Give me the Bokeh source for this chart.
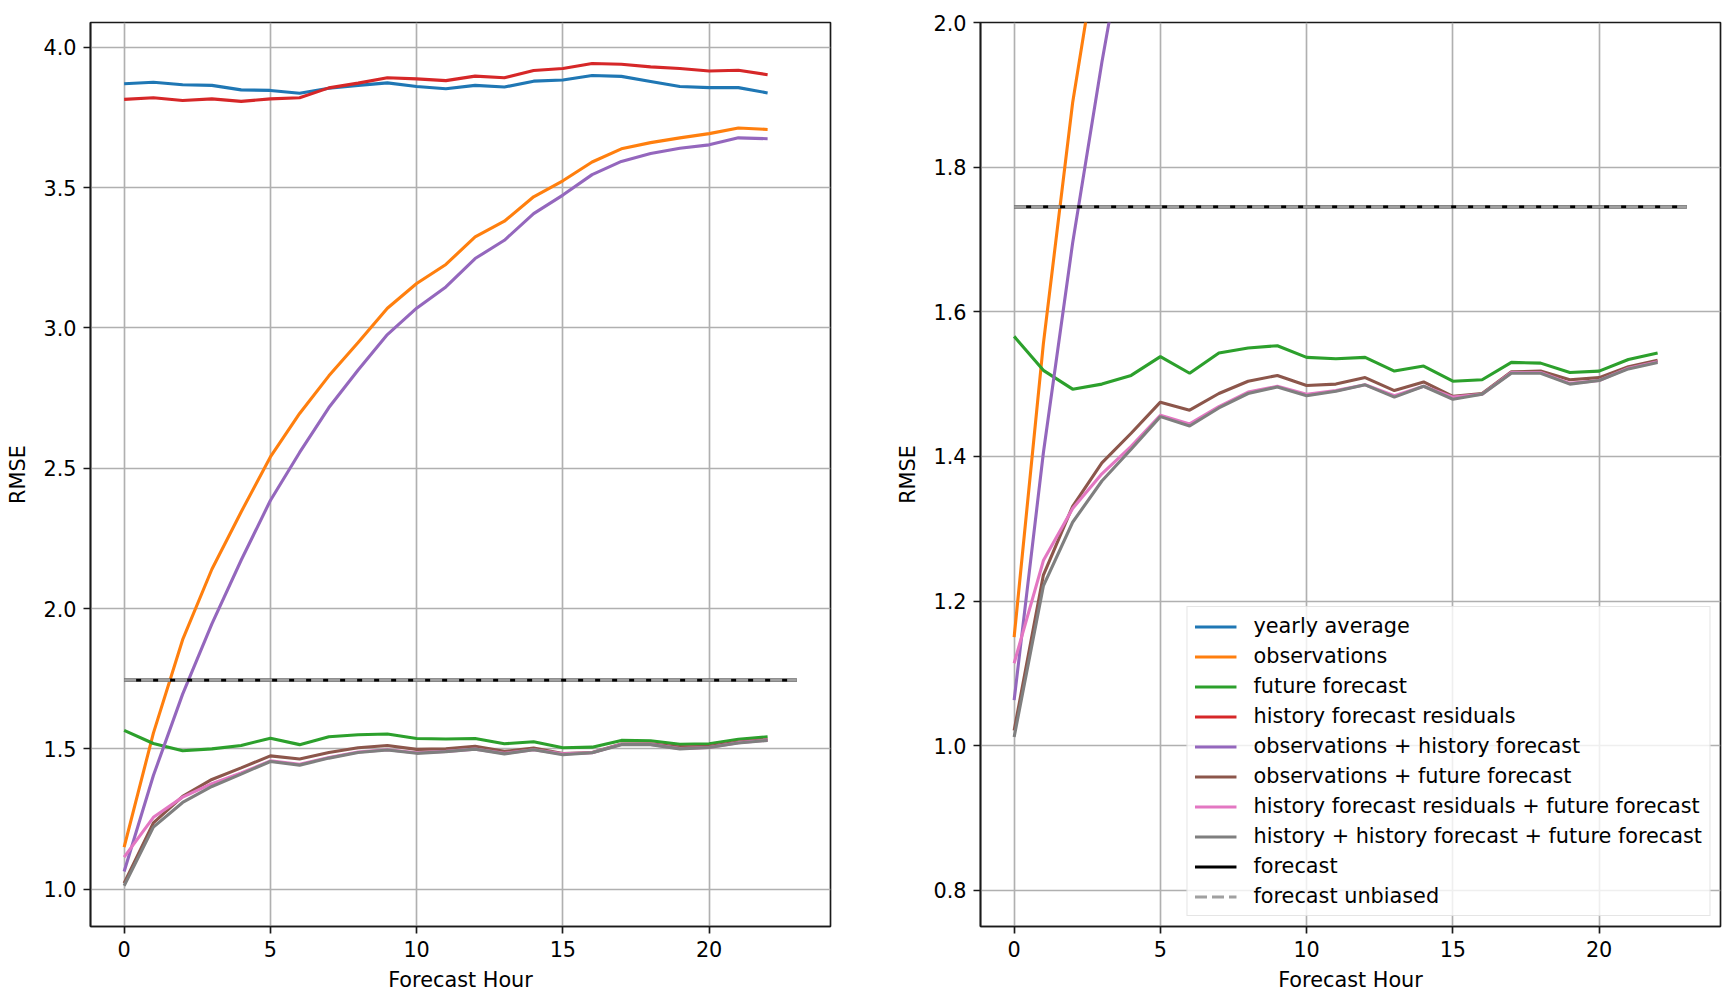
from bokeh.plotting import figure
from bokeh.layouts import row
from bokeh.models import Range1d, FixedTicker, Legend, NumeralTickFormatter
from bokeh.embed import file_html
from bokeh.resources import INLINE

# ---------------- data ----------------
hours = list(range(23))
forecast_hours = list(range(24))

yearly_average = [3.870, 3.875, 3.866, 3.864, 3.848, 3.846, 3.836, 3.854, 3.864, 3.873, 3.860, 3.852,
                  3.864, 3.858, 3.879, 3.883, 3.899, 3.896, 3.878, 3.860, 3.856, 3.856, 3.837]
observations = [1.150, 1.556, 1.889, 2.140, 2.344, 2.540, 2.695, 2.829, 2.948, 3.070, 3.158, 3.226,
                3.324, 3.380, 3.467, 3.524, 3.591, 3.638, 3.660, 3.677, 3.692, 3.712, 3.707]
future_forecast = [1.566, 1.519, 1.493, 1.500, 1.512, 1.538, 1.515, 1.543, 1.550, 1.553, 1.537, 1.535,
                   1.537, 1.518, 1.525, 1.504, 1.506, 1.530, 1.529, 1.516, 1.518, 1.534, 1.543]
history_forecast_residuals = [3.814, 3.820, 3.810, 3.816, 3.807, 3.816, 3.820, 3.855, 3.872, 3.891, 3.887, 3.881,
                              3.897, 3.891, 3.917, 3.924, 3.942, 3.939, 3.930, 3.924, 3.915, 3.918, 3.902]
obs_history_forecast = [1.063, 1.405, 1.695, 1.945, 2.172, 2.385, 2.556, 2.716, 2.850, 2.976, 3.070, 3.146,
                        3.247, 3.312, 3.407, 3.473, 3.546, 3.593, 3.621, 3.640, 3.652, 3.677, 3.674]
obs_future_forecast = [1.021, 1.236, 1.331, 1.391, 1.432, 1.475, 1.464, 1.487, 1.504, 1.512, 1.498, 1.500,
                       1.509, 1.491, 1.503, 1.483, 1.487, 1.517, 1.518, 1.506, 1.509, 1.524, 1.533]
residuals_future_forecast = [1.114, 1.256, 1.328, 1.376, 1.414, 1.457, 1.445, 1.469, 1.489, 1.497, 1.486, 1.491,
                             1.499, 1.484, 1.497, 1.482, 1.486, 1.516, 1.516, 1.501, 1.505, 1.522, 1.531]
history_all_forecast = [1.012, 1.221, 1.309, 1.366, 1.410, 1.455, 1.442, 1.467, 1.487, 1.496, 1.484, 1.490,
                        1.499, 1.482, 1.497, 1.479, 1.486, 1.515, 1.515, 1.500, 1.505, 1.521, 1.530]
forecast_rmse = 1.745
forecast_unbiased_rmse = 1.745

series = [
    ("yearly average", yearly_average, "#1f77b4"),
    ("observations", observations, "#ff7f0e"),
    ("future forecast", future_forecast, "#2ca02c"),
    ("history forecast residuals", history_forecast_residuals, "#d62728"),
    ("observations + history forecast", obs_history_forecast, "#9467bd"),
    ("observations + future forecast", obs_future_forecast, "#8c564b"),
    ("history forecast residuals + future forecast", residuals_future_forecast, "#e377c2"),
    ("history + history forecast + future forecast", history_all_forecast, "#7f7f7f"),
]

x_ticks = [0, 5, 10, 15, 20]
left_y_ticks = [1.0, 1.5, 2.0, 2.5, 3.0, 3.5, 4.0]
right_y_ticks = [0.8, 1.0, 1.2, 1.4, 1.6, 1.8, 2.0]

FONT = "DejaVu Sans"
FS = "20.8px"
LW = 3.1
THIN = 1.67


def make_fig(y_range, y_ticks, border_left, border_right):
    p = figure(frame_width=740, frame_height=904, output_backend="svg", toolbar_location=None,
               x_range=Range1d(-1.15, 24.15), y_range=y_range,
               min_border_left=border_left, min_border_right=border_right,
               min_border_top=22, min_border_bottom=70)
    p.background_fill_color = "white"
    p.border_fill_color = "white"
    p.outline_line_color = "#1a1a1a"
    p.outline_line_width = THIN
    for ax in (p.xaxis[0], p.yaxis[0]):
        ax.axis_line_color = "#1a1a1a"
        ax.axis_line_width = THIN
        ax.major_tick_line_color = "#1a1a1a"
        ax.major_tick_line_width = THIN
        ax.major_tick_out = 7
        ax.major_tick_in = 0
        ax.minor_tick_line_color = None
        ax.major_label_text_font = FONT
        ax.major_label_text_font_size = FS
        ax.major_label_text_color = "black"
        ax.axis_label_text_font = FONT
        ax.axis_label_text_font_size = FS
        ax.axis_label_text_font_style = "normal"
        ax.axis_label_text_color = "black"
        ax.major_label_standoff = 7
    p.xaxis.ticker = FixedTicker(ticks=x_ticks)
    p.yaxis.ticker = FixedTicker(ticks=y_ticks)
    p.yaxis.formatter = NumeralTickFormatter(format="0.0")
    p.xaxis.axis_label = "Forecast Hour"
    p.yaxis.axis_label = "RMSE"
    p.xaxis.axis_label_standoff = 8
    p.yaxis.axis_label_standoff = 10
    for g in (p.xgrid[0], p.ygrid[0]):
        g.grid_line_color = "#b0b0b0"
        g.grid_line_width = THIN
    p.xgrid.ticker = FixedTicker(ticks=x_ticks)
    p.ygrid.ticker = FixedTicker(ticks=y_ticks)
    return p


def draw(p, with_legend):
    items = []
    for name, vals, col in series:
        r = p.line(hours, vals, line_color=col, line_width=LW)
        items.append((name, [r]))
    r1 = p.line(forecast_hours, [forecast_rmse] * len(forecast_hours), line_color="black", line_width=LW)
    items.append(("forecast", [r1]))
    r2 = p.line(forecast_hours, [forecast_unbiased_rmse] * len(forecast_hours), line_color="#a0a0a0",
                line_width=LW, line_dash="12 5")
    items.append(("forecast unbiased", [r2]))
    if with_legend:
        leg = Legend(items=items, location="bottom_right")
        leg.label_text_font = FONT
        leg.label_text_font_size = FS
        leg.label_text_color = "black"
        leg.glyph_width = 42
        leg.glyph_height = 21
        leg.label_height = 21
        leg.spacing = 6
        leg.label_standoff = 17
        leg.padding = 7
        leg.margin = 10
        leg.border_line_color = "#cccccc"
        leg.border_line_width = THIN
        leg.background_fill_alpha = 0.8
        p.add_layout(leg, "center")


p1 = make_fig(Range1d(0.867, 4.088), left_y_ticks, 90, 63)
draw(p1, False)
p2 = make_fig(Range1d(0.75, 2.0), right_y_ticks, 82, 4)
draw(p2, True)

layout = row(p1, p2)
with open("out.html", "w", encoding="utf-8") as f:
    f.write(file_html(layout, INLINE))
